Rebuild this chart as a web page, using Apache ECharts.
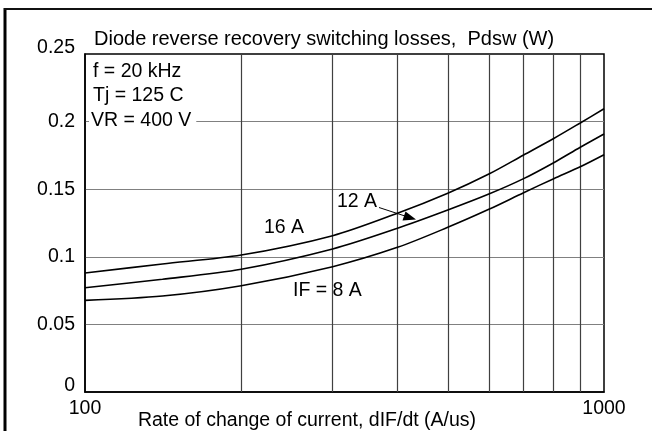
<!DOCTYPE html>
<html>
<head>
<meta charset="utf-8">
<script src="https://cdn.jsdelivr.net/npm/echarts@6/dist/echarts.min.js"></script>
<style>html,body{margin:0;padding:0;background:#fff;}#c{width:652px;height:431px;}</style>
</head>
<body>
<div id="c"></div>
<script>
// Data
var rateX = [100, 141, 200, 300, 400, 500, 600, 700, 800, 900, 1000];
var loss16A = [0.0880, 0.0947, 0.1013, 0.1156, 0.1322, 0.1470, 0.1612, 0.1753, 0.1875, 0.1990, 0.2095];
var loss12A = [0.0771, 0.0834, 0.0908, 0.1058, 0.1211, 0.1346, 0.1464, 0.1578, 0.1696, 0.1810, 0.1908];
var loss8A  = [0.0678, 0.0710, 0.0786, 0.0927, 0.1070, 0.1218, 0.1351, 0.1474, 0.1578, 0.1666, 0.1755];
var xGridValues = [200, 300, 400, 500, 600, 700, 800, 900];
var xTickLabels = ['100', '1000'];
var yTicks = [0, 0.05, 0.1, 0.15, 0.2, 0.25];

var FONT = 'Liberation Sans';
var FS = 19.5;

function pairs(xs, ys) { return xs.map(function (x, i) { return [x, ys[i]]; }); }

var chart = echarts.init(document.getElementById('c'), null, { renderer: 'canvas' });

var lineStyle = { color: '#000', width: 1.6 };

chart.setOption({
  animation: false,
  backgroundColor: '#fff',
  textStyle: { fontFamily: FONT },
  grid: { left: 85, top: 54, width: 519, height: 338, containLabel: false, outerBoundsMode: 'none',
          show: true, borderColor: '#000', borderWidth: 1.5, backgroundColor: 'transparent' },
  xAxis: {
    type: 'log', logBase: 10, min: 100, max: 1000,
    name: 'Rate of change of current, dIF/dt (A/us)',
    nameLocation: 'middle', nameGap: 19, nameMoveOverlap: false,
    nameTextStyle: { fontFamily: FONT, fontSize: FS, color: '#000', padding: [0, 75, 0, 0] },
    axisLine: { show: true, lineStyle: { color: '#000', width: 1.5 } },
    axisTick: { show: false },
    splitLine: { show: false },
    minorTick: { show: false },
    axisLabel: {
      fontFamily: FONT, fontSize: FS, color: '#000', margin: 7,
      formatter: function (v) { var s = String(Math.round(v)); return xTickLabels.indexOf(s) >= 0 ? s : ''; }
    }
  },
  yAxis: {
    type: 'value', min: 0, max: 0.25, interval: 0.05,
    axisLine: { show: true, lineStyle: { color: '#000', width: 1.5 } },
    axisTick: { show: false },
    splitLine: { show: true, showMinLine: false, showMaxLine: false, lineStyle: { color: '#808080', width: 1.2 } },
    axisLabel: {
      fontFamily: FONT, fontSize: FS, color: '#000', margin: 10,
      formatter: function (v) {
        var s = String(+v.toFixed(2));
        if (v === 0 || Math.abs(v - 0.25) < 1e-9) return '{up|' + s + '}';
        return s;
      },
      rich: { up: { fontFamily: FONT, fontSize: FS, color: '#000', padding: [0, 0, 12, 0] } }
    }
  },
  series: [
    {
      name: '16 A', type: 'line', data: pairs(rateX, loss16A), showSymbol: false, smooth: 0.3,
      lineStyle: lineStyle, z: 5,
      markLine: {
        silent: true, symbol: 'none', label: { show: false },
        lineStyle: { color: '#404040', width: 1.2, type: 'solid' },
        data: xGridValues.map(function (v) { return { xAxis: v }; })
      }
    },
    { name: '12 A', type: 'line', data: pairs(rateX, loss12A), showSymbol: false, smooth: 0.3, lineStyle: lineStyle, z: 5 },
    { name: '8 A', type: 'line', data: pairs(rateX, loss8A), showSymbol: false, smooth: 0.3, lineStyle: lineStyle, z: 5 }
  ],
  graphic: [
    { type: 'line', shape: { x1: 5, y1: 8, x2: 5, y2: 431 }, style: { stroke: '#000', lineWidth: 3 } },
    { type: 'line', shape: { x1: 4, y1: 9, x2: 652, y2: 9 }, style: { stroke: '#111', lineWidth: 2 } },
    { type: 'text', left: 94, top: 29, style: { text: 'Diode reverse recovery switching losses,  Pdsw (W)', font: '20px ' + FONT, fill: '#000' } },
    { type: 'text', left: 93, top: 62, style: { text: 'f = 20 kHz', font: FS + 'px ' + FONT, fill: '#000' } },
    { type: 'text', left: 93, top: 86, style: { text: 'Tj = 125 C', font: FS + 'px ' + FONT, fill: '#000' } },
    { type: 'text', left: 89, top: 111, z: 10, style: { text: 'VR = 400 V', font: FS + 'px ' + FONT, fill: '#000', backgroundColor: '#fff', padding: [0, 5, 0, 2] } },
    { type: 'text', left: 264, top: 218, z: 10, style: { text: '16 A', font: FS + 'px ' + FONT, fill: '#000' } },
    { type: 'text', left: 337, top: 192, z: 10, style: { text: '12 A', font: FS + 'px ' + FONT, fill: '#000' } },
    { type: 'text', left: 293, top: 281, z: 10, style: { text: 'IF = 8 A', font: FS + 'px ' + FONT, fill: '#000' } },
    { type: 'line', z: 10, shape: { x1: 379, y1: 207.5, x2: 408, y2: 217 }, style: { stroke: '#000', lineWidth: 1 } },
    { type: 'polygon', z: 10, shape: { points: [[416, 219.5], [402.5, 220.5], [405.5, 211.5]] }, style: { fill: '#000' } }
  ]
});
</script>
</body>
</html>
